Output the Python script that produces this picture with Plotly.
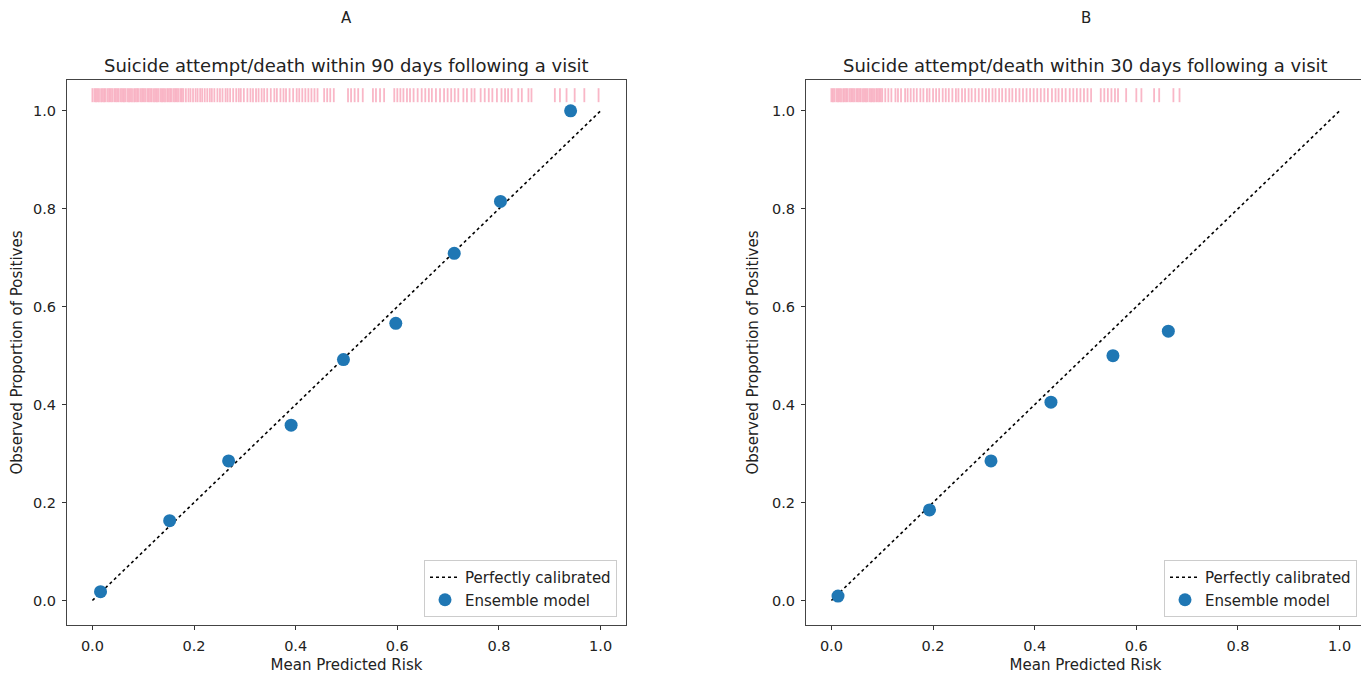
import plotly.graph_objects as go

# Calibration points
a_pred = [0.016, 0.152, 0.268, 0.391, 0.494, 0.597, 0.712, 0.803, 0.941]
a_obs = [0.018, 0.163, 0.285, 0.358, 0.492, 0.566, 0.709, 0.815, 1.000]
b_pred = [0.013, 0.193, 0.314, 0.432, 0.554, 0.663]
b_obs = [0.009, 0.185, 0.285, 0.405, 0.500, 0.550]

# Rug of predicted risks (panel A)
a_rug = [0.000, 0.004, 0.007, 0.010, 0.013, 0.017, 0.020, 0.023, 0.026, 0.030, 0.033, 0.036,
         0.039, 0.043, 0.046, 0.049, 0.052, 0.056, 0.059, 0.062, 0.065, 0.069, 0.072, 0.075,
         0.078, 0.082, 0.085, 0.088, 0.091, 0.095, 0.098, 0.101, 0.104, 0.108, 0.111, 0.114,
         0.117, 0.121, 0.124, 0.127, 0.130, 0.134, 0.137, 0.140, 0.143, 0.147, 0.150, 0.153,
         0.156, 0.160, 0.163, 0.166, 0.169, 0.173, 0.176, 0.179,
         0.184, 0.189, 0.193, 0.198, 0.203, 0.207, 0.212, 0.216, 0.221, 0.226, 0.231, 0.235,
         0.240, 0.246, 0.251, 0.256, 0.262, 0.266, 0.271, 0.277, 0.283, 0.288, 0.292, 0.298,
         0.305, 0.311, 0.316, 0.322, 0.327, 0.333, 0.338, 0.344, 0.351, 0.358, 0.363, 0.370,
         0.376, 0.381, 0.388, 0.395, 0.402, 0.407, 0.413, 0.419, 0.425, 0.431, 0.437, 0.443,
         0.456, 0.462, 0.468, 0.475, 0.503, 0.509, 0.516, 0.523, 0.532, 0.552, 0.558, 0.566,
         0.574, 0.594, 0.600, 0.606, 0.612, 0.619, 0.625, 0.632, 0.640, 0.648, 0.655, 0.662,
         0.668, 0.676, 0.684, 0.692, 0.699, 0.706, 0.713, 0.720, 0.730, 0.737, 0.746, 0.752,
         0.764, 0.772, 0.780, 0.787, 0.796, 0.805, 0.812, 0.818, 0.825, 0.838, 0.845, 0.858,
         0.864, 0.910, 0.920, 0.933, 0.949, 0.968, 0.996]

# Rug of predicted risks (panel B)
b_rug = [0.000, 0.003, 0.006, 0.010, 0.013, 0.016, 0.019, 0.023, 0.026, 0.029, 0.032, 0.036,
         0.039, 0.042, 0.045, 0.049, 0.052, 0.055, 0.058, 0.062, 0.065, 0.068, 0.071, 0.075,
         0.078, 0.081, 0.084, 0.088, 0.091, 0.094, 0.097, 0.100,
         0.106, 0.112, 0.118, 0.126, 0.131, 0.137, 0.145, 0.150, 0.156, 0.162, 0.168, 0.175,
         0.181, 0.188, 0.193, 0.200, 0.206, 0.212, 0.219, 0.225, 0.231, 0.238, 0.245, 0.250,
         0.257, 0.263, 0.270, 0.276, 0.283, 0.290, 0.297, 0.304, 0.310, 0.317, 0.323, 0.330,
         0.336, 0.343, 0.350, 0.356, 0.363, 0.370, 0.377, 0.384, 0.391, 0.398, 0.405, 0.412,
         0.419, 0.426, 0.434, 0.441, 0.447, 0.454, 0.461, 0.469, 0.476, 0.483, 0.490, 0.497,
         0.504, 0.511, 0.530, 0.537, 0.544, 0.551, 0.558, 0.564, 0.580, 0.600, 0.610, 0.635,
         0.645, 0.673, 0.685]

diag = [0.0, 1.0]
rug_y = 1.032
ticks = [0.0, 0.2, 0.4, 0.6, 0.8, 1.0]
tick_text = ["0.0", "0.2", "0.4", "0.6", "0.8", "1.0"]

panel_letters = ["A", "B"]
panel_titles = ["Suicide attempt/death within 90 days following a visit",
                "Suicide attempt/death within 30 days following a visit"]

# page body has an 8px margin, so the figure starts at (8, 8) in the window
OFF = 8
W, H = 1369 - OFF, 674 - OFF
FONT = "DejaVu Sans"
BLUE = "#1f77b4"
PINK = "rgba(248,165,185,0.8)"
TXT = "#222"

def px(xr):
    return (xr - OFF) / W

def py(yr):
    return (H - (yr - OFF)) / H

fig = go.Figure()

panels = [(a_pred, a_obs, a_rug, "x", "y", "legend"),
          (b_pred, b_obs, b_rug, "x2", "y2", "legend2")]

for pred, obs, rug, xa, ya, lg in panels:
    fig.add_trace(go.Scatter(x=diag, y=diag, mode="lines", xaxis=xa, yaxis=ya,
                             line=dict(color="black", dash="dot", width=1.6),
                             name="Perfectly calibrated", legend=lg))
    fig.add_trace(go.Scatter(x=rug, y=[rug_y] * len(rug), mode="markers", xaxis=xa, yaxis=ya,
                             marker=dict(symbol="line-ns", size=10,
                                         line=dict(color=PINK, width=1.8)),
                             showlegend=False, hoverinfo="x"))
    fig.add_trace(go.Scatter(x=pred, y=obs, mode="markers", xaxis=xa, yaxis=ya,
                             marker=dict(color=BLUE, size=13),
                             name="Ensemble model", legend=lg))

common = dict(tickvals=ticks, ticktext=tick_text, automargin=False,
              ticks="outside", ticklen=4, tickcolor="#333", showgrid=False,
              zeroline=False, showline=True, linecolor="#444", linewidth=1.2,
              mirror=True, tickfont=dict(family=FONT, size=14.5, color=TXT))

ydom = [py(625), py(80)]
xdomA = [px(67), px(626)]
xdomB = [px(806), px(1365)]
yrange = [-0.05, 1.063]

def xt():
    return dict(text="Mean Predicted Risk", standoff=6,
                font=dict(family=FONT, size=15, color=TXT))

def yt():
    return dict(text="Observed Proportion of Positives", standoff=9,
                font=dict(family=FONT, size=15, color=TXT))

fig.update_layout(
    width=W, height=H,
    margin=dict(l=0, r=0, t=0, b=0),
    paper_bgcolor="white", plot_bgcolor="white",
    font=dict(family=FONT, size=14, color=TXT),
    xaxis=dict(domain=xdomA, anchor="y", range=[-0.05, 1.05], title=xt(),
               ticklabelstandoff=3, **common),
    yaxis=dict(domain=ydom, anchor="x", range=yrange, title=yt(),
               ticklabelstandoff=3, **common),
    xaxis2=dict(domain=xdomB, anchor="y2", range=[-0.05, 1.05], title=xt(),
                ticklabelstandoff=3, **common),
    yaxis2=dict(domain=ydom, anchor="x2", range=yrange, title=yt(),
                ticklabelstandoff=3, **common),
    legend=dict(x=px(617), y=py(617), xanchor="right", yanchor="bottom",
                bgcolor="rgba(255,255,255,0.85)", bordercolor="#cccccc", borderwidth=1,
                font=dict(family=FONT, size=15, color=TXT), tracegroupgap=2),
    legend2=dict(x=px(1357), y=py(617), xanchor="right", yanchor="bottom",
                 bgcolor="rgba(255,255,255,0.85)", bordercolor="#cccccc", borderwidth=1,
                 font=dict(family=FONT, size=15, color=TXT), tracegroupgap=2),
)

centers = [(xdomA[0] + xdomA[1]) / 2, (xdomB[0] + xdomB[1]) / 2]
for cx, letter, title in zip(centers, panel_letters, panel_titles):
    fig.add_annotation(x=cx, y=1.0, xref="paper", yref="paper",
                       text=letter, showarrow=False, xanchor="center", yanchor="top",
                       borderpad=0,
                       font=dict(family=FONT, size=15, color=TXT))
    fig.add_annotation(x=cx, y=py(65), xref="paper", yref="paper",
                       text=title, showarrow=False, xanchor="center", yanchor="middle",
                       font=dict(family=FONT, size=18, color=TXT))

fig.write_html("out.html")
